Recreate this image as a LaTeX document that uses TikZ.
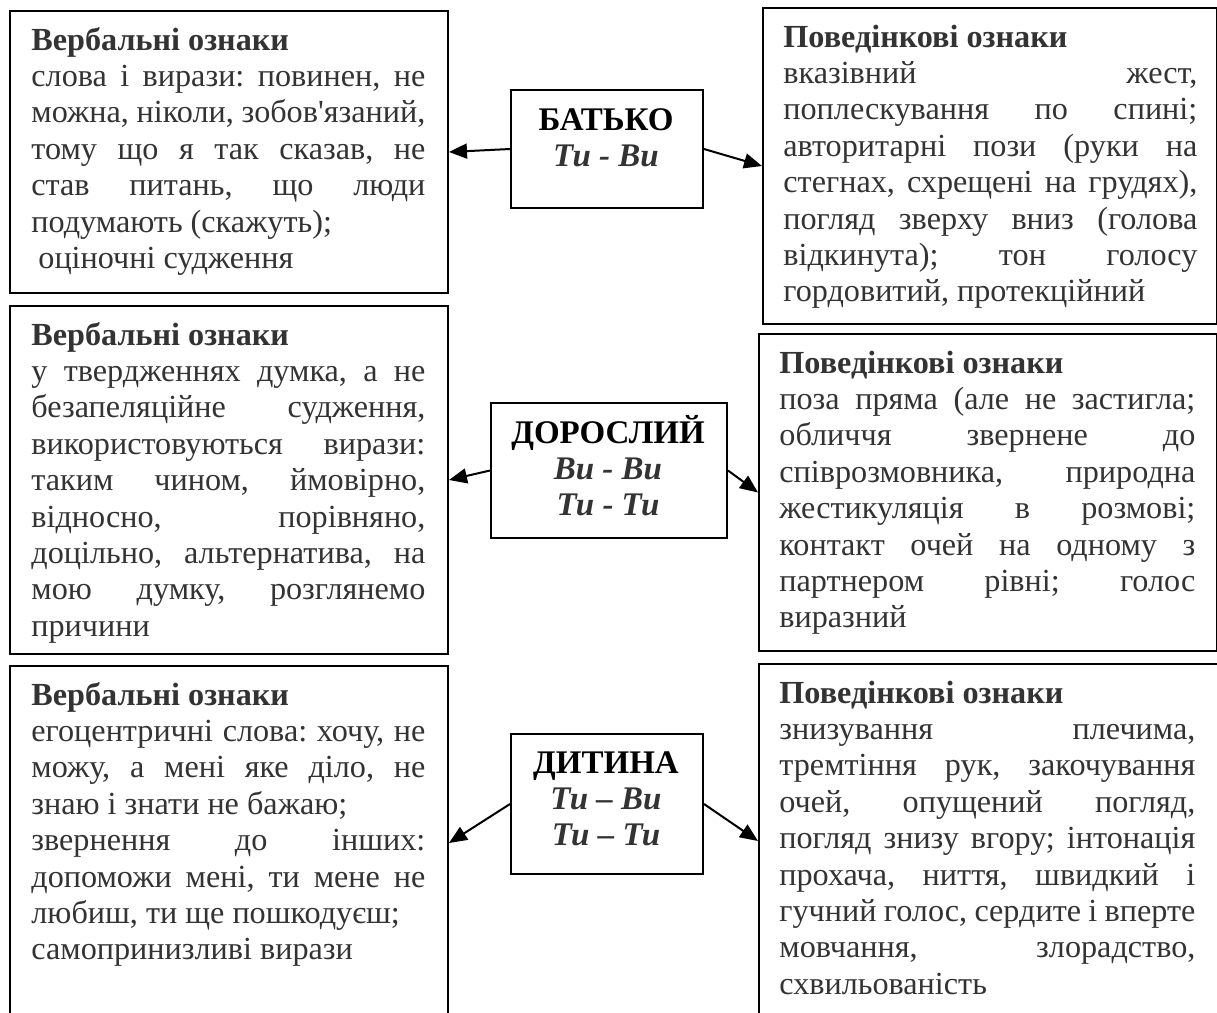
\documentclass[tikz,border=0pt]{standalone}
\usepackage{fontspec}
\newfontfamily\serifm{Liberation Serif}
\usetikzlibrary{arrows.meta,calc}
\definecolor{txt}{HTML}{333333}
\frenchspacing
\newcommand\jline[1]{\hbox to\hsize{#1}}
\newcommand\lline[1]{\hbox to\hsize{#1\hfil}}
\newcommand\cenline[1]{\hbox to\hsize{\hfil#1\hfil}}
\newcommand\txtblock[2]{\vtop{\frenchspacing\hsize=#1\relax\baselineskip=18.2pt\lineskiplimit=-100pt\lineskip=0pt #2}}
\tikzset{
  obox/.style={draw=black, line width=1pt, rectangle, anchor=north west, inner sep=0pt},
  cbox/.style={draw=black, line width=1pt, rectangle, anchor=north west, inner sep=0pt},
  body/.style={anchor=base west, inner sep=0pt, text=txt, font=\serifm\fontsize{16.1}{18.2}\selectfont},
  ctext/.style={anchor=base, inner sep=0pt, text=black, font=\serifm\bfseries\fontsize{16.5}{18.2}\selectfont},
  arr/.style={line width=1pt, -{Triangle[length=9pt,width=7.5pt]}}
}
\begin{document}
\begin{tikzpicture}[x=0.5pt,y=-0.5pt]
\useasboundingbox (0,0) rectangle (1217,1013);
\clip (0,0) rectangle (1217,1013);
% outer boxes
\node[obox, minimum width=219pt, minimum height=141pt] (vb1) at (9,10) {};
\node[obox, minimum width=227pt, minimum height=158pt] (pb1) at (762,7) {};
\node[obox, minimum width=219pt, minimum height=174pt] (vb2) at (9,305) {};
\node[obox, minimum width=229pt, minimum height=158.5pt] (pb2) at (758,333) {};
\node[obox, minimum width=219pt, minimum height=177pt] (vb3) at (9,665) {};
\node[obox, minimum width=232pt, minimum height=177pt] (pb3) at (758,663) {};
% centre boxes
\node[cbox, minimum width=96pt, minimum height=59pt] (batko) at (510,89) {};
\node[cbox, minimum width=118pt, minimum height=67.5pt] (dor) at (490,402) {};
\node[cbox, minimum width=96pt, minimum height=70pt] (dyt) at (510,733) {};
% centre texts
\node[ctext] (tbatko) at (606,130) {\txtblock{120pt}{%
  \cenline{БАТЬКО}%
  \cenline{\color{txt}\itshape Ти - Ви}}};
\node[ctext] (tdor) at (608,443) {\txtblock{120pt}{%
  \cenline{ДОРОСЛИЙ}%
  \cenline{\color{txt}\itshape Ви - Ви}%
  \cenline{\color{txt}\itshape Ти - Ти}}};
\node[ctext] (tdyt) at (606,773) {\txtblock{120pt}{%
  \cenline{ДИТИНА}%
  \cenline{\color{txt}\itshape Ти – Ви}%
  \cenline{\color{txt}\itshape Ти – Ти}}};
% body texts
\node[body] (t1) at ($(vb1.north west)+(22,40)$) {\txtblock{197pt}{%
  \lline{\bfseries Вербальні ознаки}%
  \jline{слова і вирази: повинен, не}%
  \jline{можна, ніколи, зобов'язаний,}%
  \jline{тому що я так сказав, не}%
  \jline{став питань, що люди}%
  \lline{подумають (скажуть);}%
  \lline{\hspace{3.5pt}оціночні судження}}};
\node[body] (t2) at ($(pb1.north west)+(21,40)$) {\txtblock{207pt}{%
  \lline{\bfseries Поведінкові ознаки}%
  \jline{вказівний жест,}%
  \jline{поплескування по спині;}%
  \jline{авторитарні пози (руки на}%
  \jline{стегнах, схрещені на грудях),}%
  \jline{погляд зверху вниз (голова}%
  \jline{відкинута); тон голосу}%
  \lline{гордовитий, протекційний}}};
\node[body] (t3) at ($(vb2.north west)+(22,40)$) {\txtblock{197pt}{%
  \lline{\bfseries Вербальні ознаки}%
  \jline{у твердженнях думка, а не}%
  \jline{безапеляційне судження,}%
  \jline{використовуються вирази:}%
  \jline{таким чином, ймовірно,}%
  \jline{відносно, порівняно,}%
  \jline{доцільно, альтернатива, на}%
  \jline{мою думку, розглянемо}%
  \lline{причини}}};
\node[body] (t4) at ($(pb2.north west)+(21,40)$) {\txtblock{208pt}{%
  \lline{\bfseries Поведінкові ознаки}%
  \jline{поза пряма (але не застигла;}%
  \jline{обличчя звернене до}%
  \jline{співрозмовника, природна}%
  \jline{жестикуляція в розмові;}%
  \jline{контакт очей на одному з}%
  \jline{партнером рівні; голос}%
  \lline{виразний}}};
\node[body] (t5) at ($(vb3.north west)+(22,40)$) {\txtblock{197pt}{%
  \lline{\bfseries Вербальні ознаки}%
  \jline{егоцентричні слова: хочу, не}%
  \jline{можу, а мені яке діло, не}%
  \lline{знаю і знати не бажаю;}%
  \jline{звернення до інших:}%
  \jline{допоможи мені, ти мене не}%
  \lline{любиш, ти ще пошкодуєш;}%
  \lline{самопринизливі вирази}}};
\node[body] (t6) at ($(pb3.north west)+(21,40)$) {\txtblock{208pt}{%
  \lline{\bfseries Поведінкові ознаки}%
  \jline{знизування плечима,}%
  \jline{тремтіння рук, закочування}%
  \jline{очей, опущений погляд,}%
  \jline{погляд знизу вгору; інтонація}%
  \jline{прохача, ниття, швидкий і}%
  \jline{гучний голос, сердите і вперте}%
  \jline{мовчання, злорадство,}%
  \lline{схвильованість}}};
% connectors
\draw[arr] (batko.west) -- (vb1.east);
\draw[arr] (batko.east) -- (pb1.west);
\draw[arr] (dor.west) -- (vb2.east);
\draw[arr] (dor.east) -- (pb2.west);
\draw[arr] (dyt.west) -- (vb3.east);
\draw[arr] (dyt.east) -- (pb3.west);
\end{tikzpicture}
\end{document}
